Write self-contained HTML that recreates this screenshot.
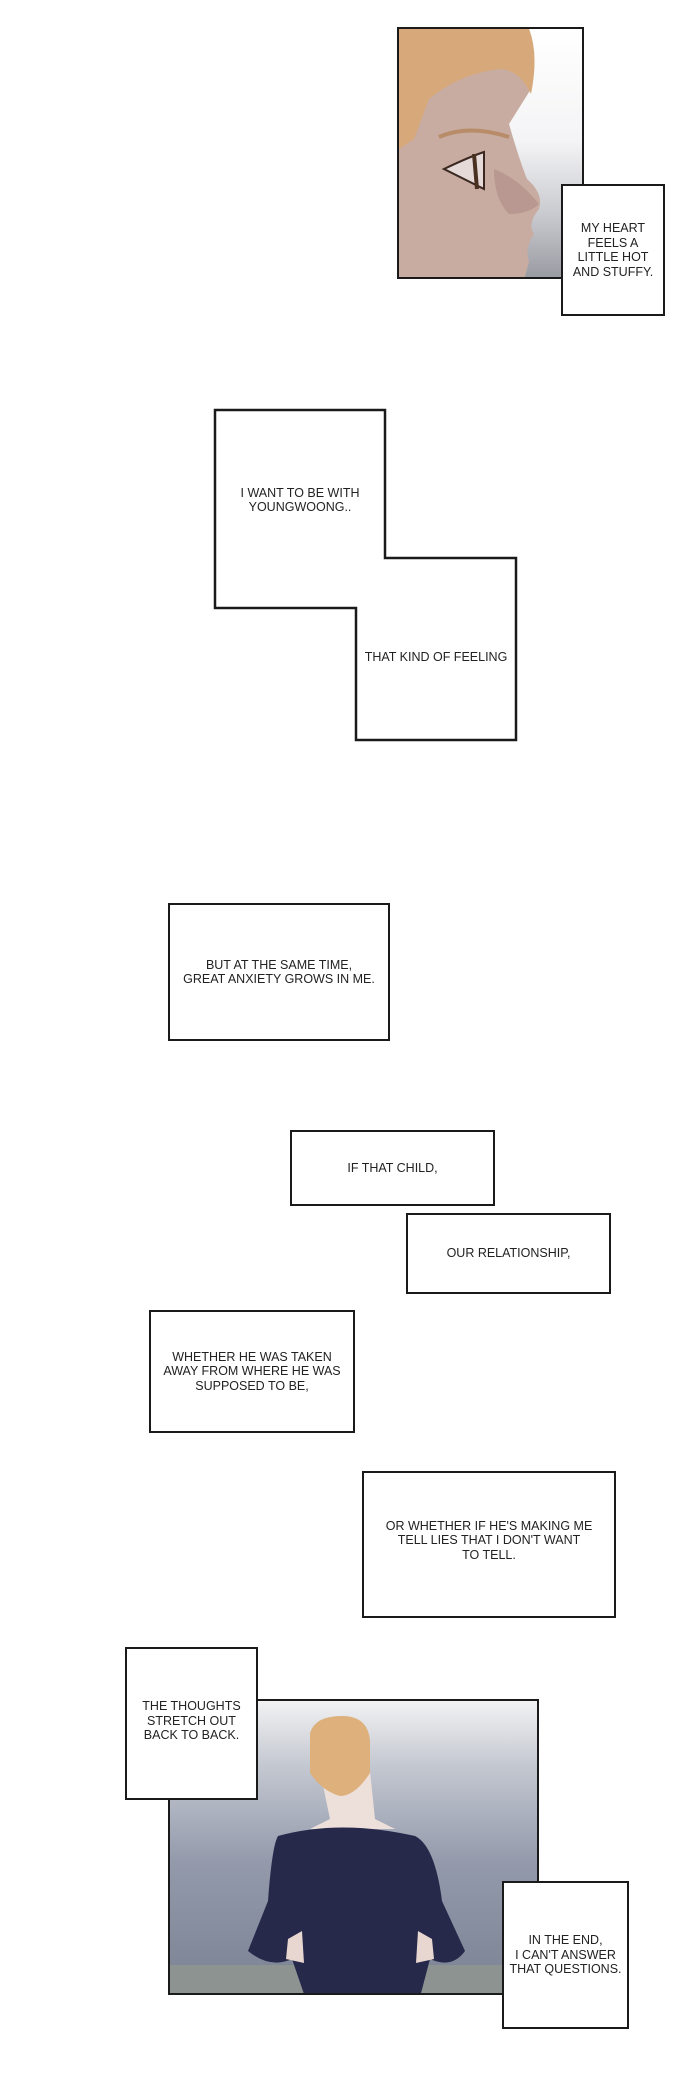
<!DOCTYPE html>
<html><head><meta charset="utf-8"><style>
html,body{margin:0;padding:0;background:#fff;}
body{width:700px;height:2100px;position:relative;overflow:hidden;font-family:"Liberation Sans",Arial,sans-serif;}
.b{position:absolute;border:2.5px solid #1a1a1a;background:#fff;box-sizing:border-box;display:flex;align-items:center;justify-content:center;text-align:center;font-size:12.5px;line-height:14.5px;color:#222;}
.t{position:absolute;font-size:12.5px;line-height:14px;color:#222;text-align:center;}
</style></head><body>

<!-- face panel -->
<div style="position:absolute;left:397px;top:27px;width:187px;height:252px;border:2.5px solid #1a1a1a;box-sizing:border-box;overflow:hidden;background:linear-gradient(180deg,#fff 0%,#f4f4f6 45%,#c9cacf 75%,#9a9ca3 100%);">
<svg width="187" height="252" viewBox="0 0 187 252" style="position:absolute;left:0;top:0">
<path d="M0,0 L130,0 Q138,20 132,60 L110,95 Q120,130 128,150 Q145,165 140,180 Q128,195 135,205 Q125,220 130,232 L125,252 L0,252 Z" fill="#c9aca1"/>
<path d="M95,140 Q120,150 140,175 Q130,185 110,185 Q95,170 95,140 Z" fill="#b89890"/>
<path d="M0,0 L130,0 Q140,25 132,65 Q120,40 100,40 Q60,45 30,70 L15,110 L0,120 Z" fill="#d7a97a"/>
<path d="M40,108 Q70,95 110,108" stroke="#b88c68" stroke-width="4" fill="none"/>
<path d="M45,140 Q70,128 85,123 L85,160 Q65,150 45,140 Z" fill="#e6dad8" stroke="#3a2820" stroke-width="2"/>
<path d="M75,125 L78,160" stroke="#4a3020" stroke-width="4"/>
</svg>
</div>
<div class="b" style="left:561px;top:184px;width:104px;height:132px;">MY HEART<br>FEELS A<br>LITTLE HOT<br>AND STUFFY.</div>

<!-- L shape -->
<svg width="700" height="760" style="position:absolute;left:0;top:0">
<path d="M215,410 L385,410 L385,558 L516,558 L516,740 L356,740 L356,608 L215,608 Z" fill="#fff" stroke="#1a1a1a" stroke-width="2.5"/>
</svg>
<div class="t" style="left:215px;width:170px;top:486px;">I WANT TO BE WITH<br>YOUNGWOONG..</div>
<div class="t" style="left:356px;width:160px;top:650px;">THAT KIND OF FEELING</div>

<div class="b" style="left:168px;top:903px;width:222px;height:138px;">BUT AT THE SAME TIME,<br>GREAT ANXIETY GROWS IN ME.</div>
<div class="b" style="left:290px;top:1130px;width:205px;height:76px;">IF THAT CHILD,</div>
<div class="b" style="left:406px;top:1213px;width:205px;height:81px;">OUR RELATIONSHIP,</div>
<div class="b" style="left:149px;top:1310px;width:206px;height:123px;">WHETHER HE WAS TAKEN<br>AWAY FROM WHERE HE WAS<br>SUPPOSED TO BE,</div>
<div class="b" style="left:362px;top:1471px;width:254px;height:147px;padding-bottom:8px;">OR WHETHER IF HE'S MAKING ME<br>TELL LIES THAT I DON'T WANT<br>TO TELL.</div>

<!-- bottom panel -->
<div style="position:absolute;left:168px;top:1699px;width:371px;height:296px;border:2.5px solid #1a1a1a;box-sizing:border-box;overflow:hidden;background:linear-gradient(180deg,#f2f2f3 0%,#c4c8d1 22%,#939aab 55%,#7a8294 100%);">
<svg width="371" height="296" viewBox="0 0 371 296" style="position:absolute;left:0;top:0">
<rect x="0" y="264" width="371" height="32" fill="#8d9391"/>
<path d="M150,70 L200,70 L205,118 L225,128 L140,128 L160,118 Z" fill="#ede0da"/>
<path d="M108,135 Q170,118 245,135 Q265,145 272,200 L295,250 Q282,268 260,258 L250,296 L135,296 L122,258 Q100,268 78,250 L98,200 Q102,145 108,135 Z" fill="#26294a"/>
<path d="M140,32 Q145,15 172,15 Q198,15 200,40 L200,72 Q185,95 170,95 Q152,90 140,72 Z" fill="#ddb07c"/>
<path d="M118,238 L132,230 L134,262 L116,258 Z M262,238 L248,230 L246,262 L264,258 Z" fill="#e8d6d0"/>
</svg>
</div>
<div class="b" style="left:125px;top:1647px;width:133px;height:153px;align-items:flex-start;padding-top:50px;">THE THOUGHTS<br>STRETCH OUT<br>BACK TO BACK.</div>
<div class="b" style="left:502px;top:1881px;width:127px;height:148px;">IN THE END,<br>I CAN'T ANSWER<br>THAT QUESTIONS.</div>

</body></html>
